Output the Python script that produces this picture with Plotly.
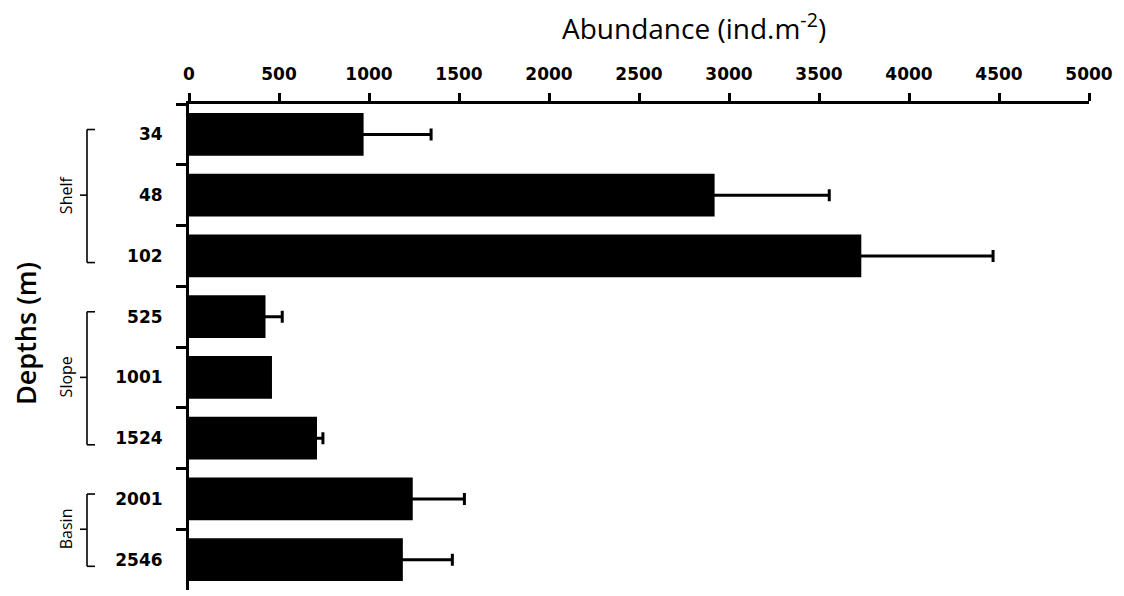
import plotly.graph_objects as go

depths = ["34", "48", "102", "525", "1001", "1524", "2001", "2546"]
abundance = [970, 2920, 3735, 425, 461, 711, 1243, 1188]
error_plus = [375, 637, 732, 93, None, 33, 287, 275]
groups = ["Shelf", "Slope", "Basin"]
group_members = [["34", "48", "102"], ["525", "1001", "1524"], ["2001", "2546"]]
x_ticks = [0, 500, 1000, 1500, 2000, 2500, 3000, 3500, 4000, 4500, 5000]

# page body has an 8px margin, so the figure is drawn 8px in from the window edge
OFF = 8
W, H = 1124 - OFF, 596 - OFF
ML, MR, MT, MB = 189 - OFF, 35, 104 - OFF, 6

fig = go.Figure()
fig.add_trace(go.Bar(
    y=depths, x=abundance, orientation="h",
    marker=dict(color="black", line=dict(width=0)),
    width=0.7,
))

# error bars (plus side only) for the points that have one;
# the minus side is tucked inside the black bar
err_idx = [i for i, e in enumerate(error_plus) if e is not None]
fig.add_trace(go.Scatter(
    y=[depths[i] for i in err_idx], x=[abundance[i] for i in err_idx],
    mode="markers", marker=dict(size=1, color="black", opacity=0),
    hoverinfo="skip",
    error_x=dict(type="data", array=[error_plus[i] for i in err_idx],
                 arrayminus=[40 for _ in err_idx],
                 symmetric=False, color="black", thickness=3, width=6),
))

tick_font = dict(family="DejaVu Sans", size=17, color="black", weight="bold")
fig.update_layout(
    width=W, height=H,
    margin=dict(l=ML, r=MR, t=MT, b=MB),
    plot_bgcolor="white", paper_bgcolor="white",
    showlegend=False,
    xaxis=dict(side="top", range=[0, 5000], tickvals=x_ticks,
               ticktext=[str(v) for v in x_ticks], automargin=False,
               showgrid=False, zeroline=False,
               showline=True, linewidth=3, linecolor="black",
               ticks="outside", ticklen=8, tickwidth=3, tickcolor="black",
               tickfont=tick_font, ticklabelstandoff=6),
    yaxis=dict(type="category", categoryorder="array", categoryarray=depths,
               range=[len(depths) - 0.5, -0.5], automargin=False,
               showgrid=False, zeroline=False,
               showline=True, linewidth=3, linecolor="black",
               ticks="outside", tickson="boundaries", ticklen=10, tickwidth=3,
               tickcolor="black", tickfont=tick_font, ticklabelstandoff=20),
)

pw = W - ML - MR
ph = H - MT - MB

def px(xw):  # window x -> paper x
    return (xw - OFF - ML) / pw

def py(yw):  # window y -> paper y
    return 1 - (yw - OFF - MT) / ph

# Axis titles
fig.add_annotation(xref="paper", yref="paper", x=px(694), y=py(27),
                   text="Abundance (ind.m<sup>-2</sup>)", showarrow=False,
                   font=dict(family="Open Sans", size=28, color="black"),
                   xanchor="center", yanchor="middle")
fig.add_annotation(xref="paper", yref="paper", x=px(25), y=py(334),
                   text="Depths (m)", textangle=-90, showarrow=False,
                   font=dict(family="Open Sans", size=27, color="black", weight=600),
                   xanchor="center", yanchor="middle")

# Group brackets
for name, members in zip(groups, group_members):
    i0 = depths.index(members[0])
    i1 = depths.index(members[-1])
    top = i0 - 0.08
    bot = i1 + 0.11
    mid = (i0 + i1) / 2
    line = dict(color="black", width=1.6)
    fig.add_shape(type="line", xref="paper", yref="y", x0=px(87), x1=px(87), y0=top, y1=bot, line=line)
    fig.add_shape(type="line", xref="paper", yref="y", x0=px(87), x1=px(95), y0=top, y1=top, line=line)
    fig.add_shape(type="line", xref="paper", yref="y", x0=px(87), x1=px(95), y0=bot, y1=bot, line=line)
    fig.add_shape(type="line", xref="paper", yref="y", x0=px(80), x1=px(87), y0=mid, y1=mid, line=line)
    fig.add_annotation(xref="paper", yref="y", x=px(66), y=mid, text=name,
                       textangle=-90, showarrow=False,
                       font=dict(family="Open Sans", size=16, color="black"),
                       xanchor="center", yanchor="middle")

fig.write_html("out.html")
